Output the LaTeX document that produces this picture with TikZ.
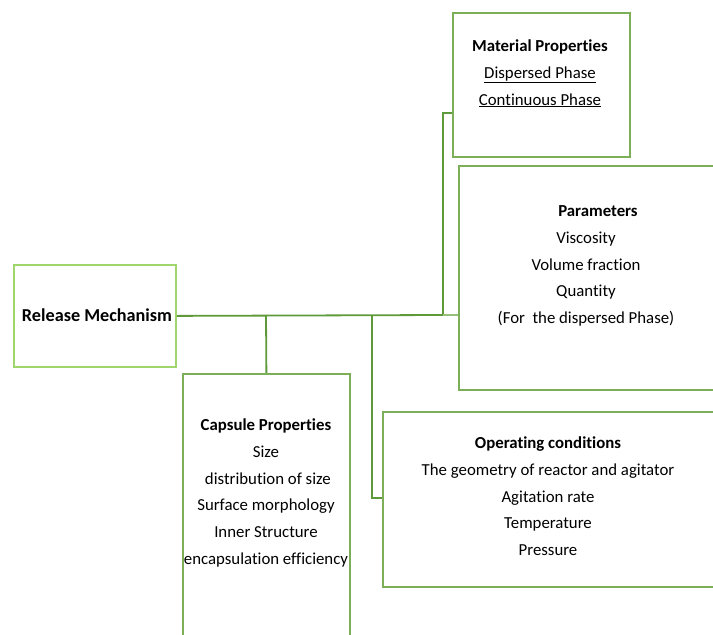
\documentclass[tikz,border=0pt]{standalone}
\usepackage{fontspec}
\setmainfont[Ligatures=NoCommon]{Carlito}
\definecolor{boxgreen}{HTML}{7CAF58}
\definecolor{lightgreen}{HTML}{9ED66B}
\definecolor{linegreen}{HTML}{5E9A3A}
\begin{document}
\begin{tikzpicture}[x=1pt,y=-1pt,
  box/.style={draw=boxgreen,line width=1.8pt,fill=white,inner sep=0pt},
  txt/.style={align=center,font=\fontsize{16.8}{26.8}\selectfont,inner sep=0pt},
  conn/.style={draw=linegreen,line width=1.8pt}]
\useasboundingbox (0,0) rectangle (713,635);
\clip (0,0) rectangle (713,635);
\fill[white] (0,0) rectangle (713,635);
% boxes
\node[box,draw=lightgreen,minimum width=162pt,minimum height=102pt,anchor=north west] (rel) at (13,264) {};
\node[font=\fontsize{18.2}{20}\selectfont\bfseries,inner sep=0pt] (relt) at (97,315) {Release Mechanism};
\node[box,minimum width=177pt,minimum height=144pt,anchor=north west] (mat) at (452,12) {};
\node[box,minimum width=290pt,minimum height=224pt,anchor=north west] (par) at (458,165) {};
\node[box,minimum width=167pt,minimum height=290pt,anchor=north west] (cap) at (182,373) {};
\node[box,minimum width=360pt,minimum height=175pt,anchor=north west] (op) at (382,411) {};
% texts
\node[txt,anchor=north] (matt) at (540,39.5) {\textbf{Material Properties}\\\underline{Dispersed Phase}\\\underline{Continuous Phase}};
\node[txt,anchor=north] (part) at (586,205.5) {\hspace*{24pt}\textbf{Parameters}\\Viscosity\\Volume fraction\\Quantity\\(For\ \ the dispersed Phase)};
\node[txt,anchor=north] (capt) at (266,418.5) {\textbf{Capsule Properties}\\Size\\\ distribution of size\\Surface morphology\\Inner Structure\\encapsulation efficiency};
\node[txt,anchor=north] (opt) at (548,436.5) {\textbf{Operating conditions}\\The geometry of reactor and agitator\\Agitation rate\\Temperature\\Pressure};
% connectors
\coordinate (j1) at (443,315);
\coordinate (j2) at (266,315);
\coordinate (j3) at (372,315);
\coordinate (m1) at (452,113);
\coordinate (o1) at (382,498);
\draw[conn] (rel.east) -- (j1);
\draw[conn] (j1) |- (m1);
\draw[conn,draw=boxgreen!80] (j1) -- (par.west |- j1);
\draw[conn] (j2) -- (cap.north);
\draw[conn] (j3) |- (o1);
\end{tikzpicture}
\end{document}
